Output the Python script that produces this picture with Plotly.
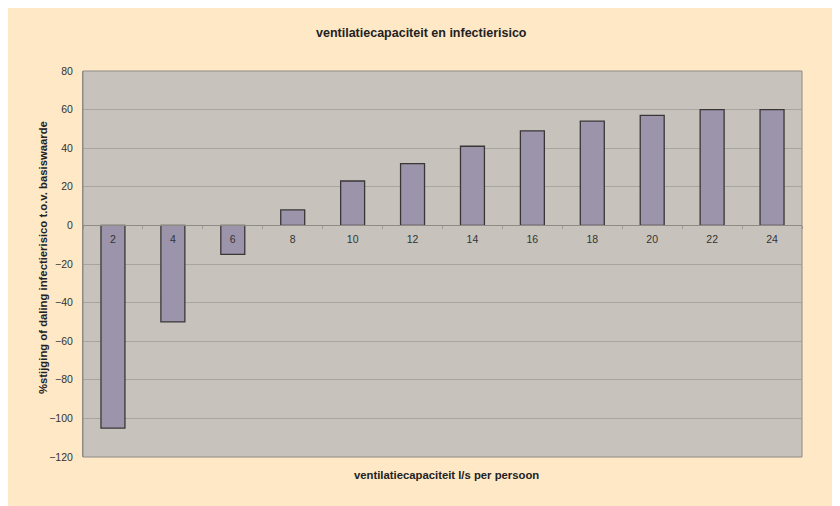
import plotly.graph_objects as go

categories = ["2", "4", "6", "8", "10", "12", "14", "16", "18", "20", "22", "24"]
values = [-105, -50, -15, 8, 23, 32, 41, 49, 54, 57, 60, 60]
y_ticks = [80, 60, 40, 20, 0, -20, -40, -60, -80, -100, -120]

title_text = "ventilatiecapaciteit en infectierisico"
x_title = "ventilatiecapaciteit l/s per persoon"
y_title = "%stijging of daling infectierisico t.o.v. basiswaarde"

ymin, ymax = -120, 80
font_family = "Liberation Sans, Arial, sans-serif"

# plot area on screen: x 83..802, y 71..457
def px(x):
    return (x - 83) / 719

def py(y):
    return (457 - y) / 386

fig = go.Figure()
fig.add_trace(go.Bar(
    x=categories, y=values, width=0.4,
    marker=dict(color="#9C94AA", line=dict(color="#3A3636", width=1.3)),
    hoverinfo="x+y",
))

fig.update_layout(
    width=840, height=506,
    margin=dict(l=75, r=46, t=63, b=57),
    paper_bgcolor="#FEE8C6",
    plot_bgcolor="#C7C3BC",
    showlegend=False,
    font=dict(family=font_family, size=10.5, color="#333333"),
    xaxis=dict(
        type="category",
        anchor="free",
        position=(0 - ymin) / (ymax - ymin),
        showline=True, linecolor="#8E8A84", linewidth=1,
        ticks="outside", ticklen=3, tickcolor="#A09C95",
        tickson="boundaries",
        ticklabelstandoff=4,
        showgrid=False,
        tickfont=dict(size=10.5, color="#333333"),
        fixedrange=True,
    ),
    yaxis=dict(
        range=[ymin, ymax],
        tickvals=y_ticks,
        showgrid=True, gridcolor="#A8A49E", gridwidth=1,
        zeroline=False,
        showline=True, linecolor="#8E8A84", linewidth=1,
        ticks="", ticklabelstandoff=7,
        tickfont=dict(size=10.5, color="#333333"),
        fixedrange=True,
    ),
    shapes=[
        dict(type="rect", xref="paper", yref="paper", x0=0, x1=1, y0=0, y1=1,
             line=dict(color="#8E8A84", width=1), layer="above"),
    ],
    annotations=[
        dict(text="<b>" + title_text + "</b>", xref="paper", yref="paper",
             x=px(421), y=py(33), showarrow=False,
             xanchor="center", yanchor="middle",
             font=dict(size=12.5, color="#222222")),
        dict(text="<b>" + x_title + "</b>", xref="paper", yref="paper",
             x=px(447), y=py(475), showarrow=False,
             xanchor="center", yanchor="middle",
             font=dict(size=11.3, color="#222222")),
        dict(text="<b>" + y_title + "</b>", xref="paper", yref="paper",
             x=px(43), y=py(258), showarrow=False, textangle=-90,
             xanchor="center", yanchor="middle",
             font=dict(size=11.3, color="#222222")),
    ],
)

fig.write_html("out.html")
